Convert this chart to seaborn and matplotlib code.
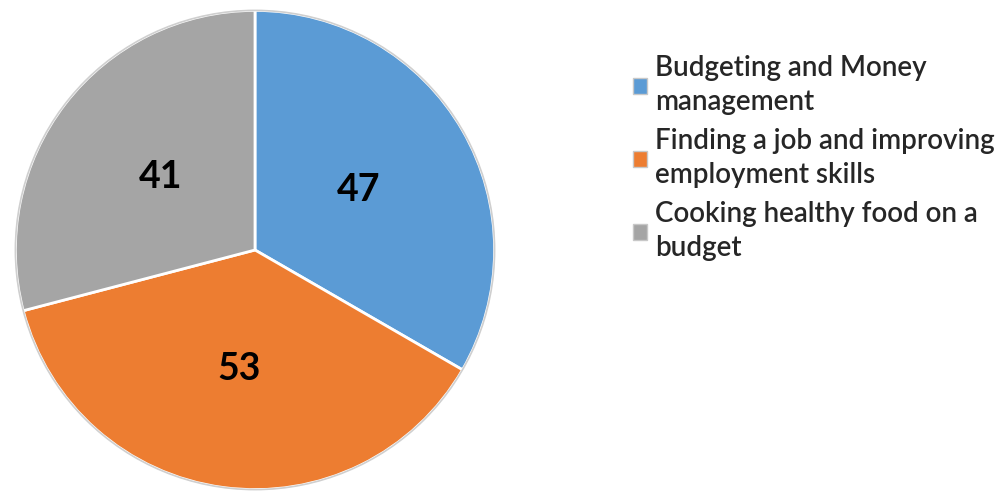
import matplotlib
matplotlib.use("Agg")
import matplotlib.pyplot as plt
from matplotlib.patches import Patch, Circle
import seaborn as sns

categories = [
    "Budgeting and Money\nmanagement",
    "Finding a job and improving\nemployment skills",
    "Cooking healthy food on a\nbudget",
]
counts = [47, 53, 41]
colors = ["#5B9BD5", "#ED7D31", "#A5A5A5"]

sns.set_style("white")
plt.rcParams["font.family"] = ["Lato", "DejaVu Sans"]

W, H = 1002, 494
fig = plt.figure(figsize=(W / 100, H / 100), dpi=100)
fig.patch.set_facecolor("white")

# pie axes: centre (255, 250) px, radius ~242 px
cx, cy, r = 255, 250, 242
ax = fig.add_axes([(cx - r) / W, (H - cy - r) / H, 2 * r / W, 2 * r / H])
palette = sns.color_palette(colors)
total = sum(counts)
wedges, texts, autotexts = ax.pie(
    counts,
    colors=palette,
    startangle=90,
    counterclock=False,
    radius=1.0,
    autopct=lambda p: f"{round(p * total / 100)}",
    pctdistance=0.5,
    wedgeprops=dict(edgecolor="white", linewidth=2),
    textprops=dict(fontsize=27, fontweight="bold", color="black"),
)
ax.add_patch(Circle((0, 0), 1.0, fill=False, edgecolor="#cfcfcf", linewidth=1.2))
ax.set_xlim(-1.01, 1.01)
ax.set_ylim(-1.01, 1.01)
ax.set_aspect("equal")
ax.axis("off")

handles = [Patch(facecolor=c, edgecolor="#c8c8c8", linewidth=1) for c in palette]
leg = fig.legend(
    handles,
    categories,
    loc="upper left",
    bbox_to_anchor=(633 / W, 1 - 55 / H),
    frameon=False,
    fontsize=20,
    handlelength=0.5,
    handleheight=0.5,
    handletextpad=0.28,
    labelspacing=0.45,
    borderpad=0,
    borderaxespad=0,
)
for t in leg.get_texts():
    t.set_fontweight("semibold")
    t.set_linespacing(1.4)

fig.savefig("out.png", dpi=100, facecolor="white")
